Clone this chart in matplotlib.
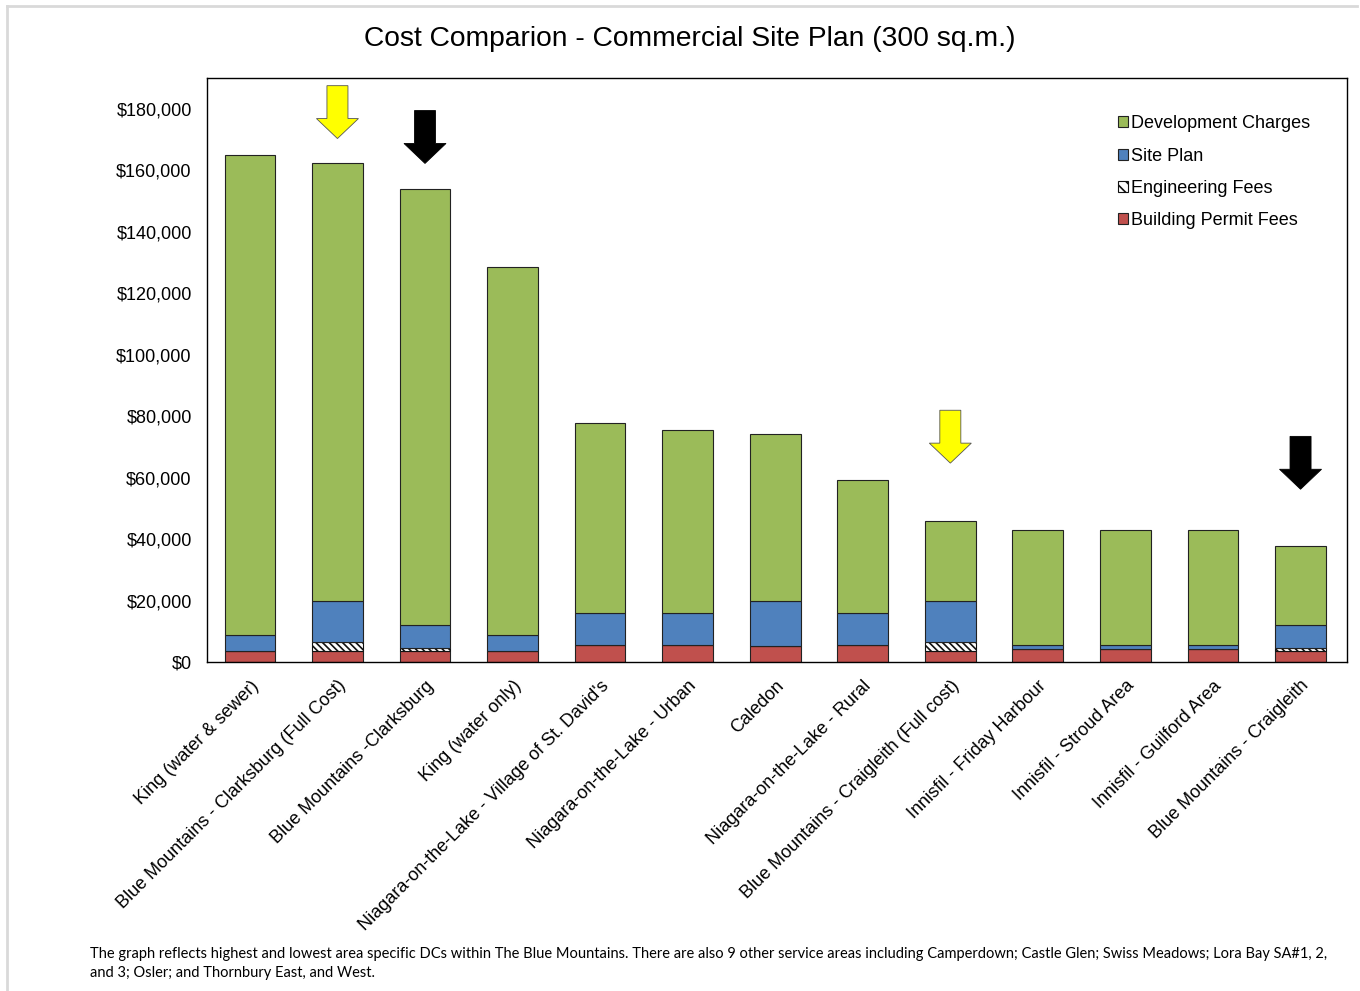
import matplotlib
matplotlib.use("Agg")
import matplotlib.pyplot as plt
from matplotlib.patches import FancyArrow, Patch
from matplotlib.lines import Line2D
from matplotlib.ticker import StrMethodFormatter
import numpy as np

plt.rcParams['font.family'] = ['Liberation Sans', 'DejaVu Sans']
plt.rcParams['hatch.linewidth'] = 1.2

categories = [
    "King (water & sewer)",
    "Blue Mountains - Clarksburg (Full Cost)",
    "Blue Mountains -Clarksburg",
    "King (water only)",
    "Niagara-on-the-Lake - Village of St. David's",
    "Niagara-on-the-Lake - Urban",
    "Caledon",
    "Niagara-on-the-Lake - Rural",
    "Blue Mountains - Craigleith (Full cost)",
    "Innisfil - Friday Harbour",
    "Innisfil - Stroud Area",
    "Innisfil - Guilford Area",
    "Blue Mountains - Craigleith",
]
building_permit = [3500, 3500, 3500, 3500, 5400, 5400, 5100, 5400, 3500, 4100, 4100, 4100, 3500]
engineering = [0, 3100, 1150, 0, 0, 0, 0, 0, 3100, 0, 0, 0, 1150]
site_plan = [5300, 13200, 7350, 5300, 10400, 10400, 14900, 10400, 13200, 1300, 1300, 1300, 7350]
dev_charges = [156200, 142400, 142000, 119600, 61900, 59600, 54100, 43400, 26000, 37500, 37500, 37500, 25700]

# highlight arrows (bar index, tip height)
arrow_bars = [1, 2, 8, 12]
arrow_tips = [170300, 162200, 64700, 56200]
arrow_colors = ['#FFFF00', '#000000', '#FFFF00', '#000000']

footnote = ("The graph reflects highest and lowest area specific DCs within The Blue Mountains. "
            "There are also 9 other service areas including Camperdown; Castle Glen; Swiss Meadows; Lora Bay SA#1, 2,\n"
            "and 3; Osler; and Thornbury East, and West.")

green = '#9BBB59'
blue = '#4F81BD'
red = '#C0504D'

fig = plt.figure(figsize=(13.6, 9.91), dpi=100)
ax = fig.add_axes([0.1522, 0.332, 0.8382, 0.5893])

x = np.arange(len(categories))
w = 0.58
bp = np.array(building_permit)
eng = np.array(engineering)
sp = np.array(site_plan)
dc = np.array(dev_charges)

ax.bar(x, bp, w, color=red, edgecolor='#222222', linewidth=0.8)
ax.bar(x, eng, w, bottom=bp, color='white', edgecolor='#111111', hatch='\\\\\\\\\\', linewidth=0.8)
ax.bar(x, sp, w, bottom=bp + eng, color=blue, edgecolor='#222222', linewidth=0.8)
ax.bar(x, dc, w, bottom=bp + eng + sp, color=green, edgecolor='#222222', linewidth=0.8)

for i, tip, c in zip(arrow_bars, arrow_tips, arrow_colors):
    ar = FancyArrow(x[i], tip + 17200, 0, -17200, width=0.24, head_width=0.48,
                    head_length=6500, length_includes_head=True,
                    facecolor=c, edgecolor='#555555' if c != '#000000' else '#000000',
                    linewidth=0.6, zorder=5)
    ax.add_patch(ar)

ax.set_xlim(-0.49, 12.53)
ax.set_ylim(0, 190000)
ax.set_yticks(np.arange(0, 180001, 20000))
ax.yaxis.set_major_formatter(StrMethodFormatter('${x:,.0f}'))
ax.tick_params(axis='y', length=0, labelsize=13, pad=11)
ax.tick_params(axis='x', length=0, labelsize=13, pad=11)
ax.set_xticks(x)
ax.set_xticklabels(categories, rotation=45, ha='right', va='top', rotation_mode='anchor')
for sp_ in ax.spines.values():
    sp_.set_linewidth(1.0)
    sp_.set_color('black')

handles = [
    Patch(facecolor=green, edgecolor='#222222', linewidth=0.8, label='Development Charges'),
    Patch(facecolor=blue, edgecolor='#222222', linewidth=0.8, label='Site Plan'),
    Patch(facecolor='white', edgecolor='#111111', hatch='\\\\\\', linewidth=0.8, label='Engineering Fees'),
    Patch(facecolor=red, edgecolor='#222222', linewidth=0.8, label='Building Permit Fees'),
]
ax.legend(handles=handles, loc='upper right', bbox_to_anchor=(0.979, 0.958), frameon=False,
          fontsize=13, handlelength=0.55, handleheight=0.55, handletextpad=0.2,
          labelspacing=0.85, borderaxespad=0.3)

fig.text(690 / 1360, 1 - 39 / 991, "Cost Comparion - Commercial Site Plan (300 sq.m.)",
         ha='center', va='center', fontsize=20.3)

fig.text(90 / 1360, 1 - 947 / 991, footnote, ha='left', va='top', fontsize=10.57,
         family=['Lato', 'DejaVu Sans'], linespacing=1.42)

# light frame around the chart area
fig.add_artist(Line2D([7 / 1360, 7 / 1360], [0, 1 - 6 / 991], transform=fig.transFigure,
                      color='#D9D9D9', linewidth=2))
fig.add_artist(Line2D([7 / 1360, 1357 / 1360], [1 - 6 / 991, 1 - 6 / 991], transform=fig.transFigure,
                      color='#D9D9D9', linewidth=2))

fig.savefig('out.png', dpi=100)
